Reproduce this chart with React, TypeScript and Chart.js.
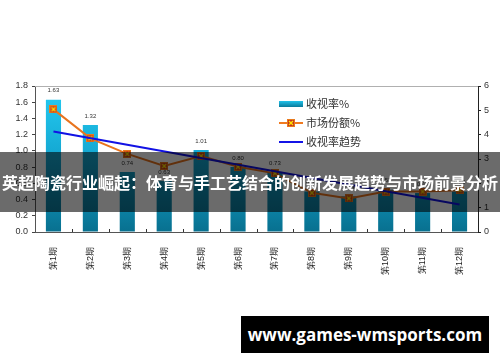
import React, { useEffect, useRef } from "react";
import { Chart, registerables } from "chart.js";

Chart.register(...registerables);

const categories = ["第1期", "第2期", "第3期", "第4期", "第5期", "第6期", "第7期", "第8期", "第9期", "第10期", "第11期", "第12期"];
const ratings = [1.63, 1.32, 0.74, 0.63, 1.01, 0.8, 0.73, 0.5, 0.44, 0.52, 0.48, 0.5];
const marketShare = [5.04, 3.85, 3.21, 2.71, 3.12, 2.68, 2.41, 1.61, 1.38, 1.66, 1.66, 1.72];
const ratingTrend = [1.24, null, null, null, null, null, null, null, null, null, null, 0.34];
const legendLabels = ["收视率%", "市场份额%", "收视率趋势"];
const titleText = "英超陶瓷行业崛起：体育与手工艺结合的创新发展趋势与市场前景分析";
const watermarkText = "www.games-wmsports.com";

function makeMarker(): HTMLCanvasElement {
  const c = document.createElement("canvas");
  c.width = 8;
  c.height = 8;
  const g = c.getContext("2d")!;
  g.fillStyle = "#c8361a";
  g.fillRect(0, 0, 8, 8);
  g.strokeStyle = "#e87a1e";
  g.lineWidth = 1;
  g.strokeRect(0.5, 0.5, 7, 7);
  g.strokeStyle = "#ffe600";
  g.lineWidth = 1.3;
  g.beginPath();
  g.moveTo(2, 2);
  g.lineTo(6, 6);
  g.moveTo(6, 2);
  g.lineTo(2, 6);
  g.stroke();
  return c;
}

const extrasPlugin = {
  id: "extras",
  beforeDatasetsDraw(chart: any) {
    const { ctx, chartArea } = chart;
    ctx.save();
    ctx.strokeStyle = "#b0b0b0";
    ctx.lineWidth = 1;
    ctx.beginPath();
    ctx.moveTo(chartArea.left, chartArea.top + 0.5);
    ctx.lineTo(chartArea.right, chartArea.top + 0.5);
    ctx.stroke();
    // small category boundary marks on the x axis
    const n = categories.length;
    const w = (chartArea.right - chartArea.left) / n;
    ctx.strokeStyle = "#333";
    ctx.beginPath();
    for (let i = 1; i < n; i++) {
      const x = Math.round(chartArea.left + i * w) + 0.5;
      ctx.moveTo(x, chartArea.bottom);
      ctx.lineTo(x, chartArea.bottom - 3);
    }
    ctx.stroke();
    ctx.restore();
  },
  afterDatasetsDraw(chart: any) {
    const { ctx } = chart;
    const meta = chart.getDatasetMeta(0);
    ctx.save();
    ctx.font = "6px 'Liberation Sans', sans-serif";
    ctx.fillStyle = "#333";
    ctx.textAlign = "center";
    ctx.textBaseline = "bottom";
    meta.data.forEach((bar: any, i: number) => {
      ctx.fillText(ratings[i].toFixed(2), bar.x, bar.y - 6);
    });
    ctx.restore();
  },
  afterDraw(chart: any) {
    const { ctx } = chart;
    ctx.save();
    const x0 = 279;
    const x1 = 303;
    const rows = [104, 123, 142];
    // bar swatch
    const g = ctx.createLinearGradient(0, rows[0] - 3, 0, rows[0] + 3);
    g.addColorStop(0, "#22c2ea");
    g.addColorStop(1, "#0a7a9a");
    ctx.fillStyle = g;
    ctx.fillRect(x0, rows[0] - 3, x1 - x0, 6);
    // market share line
    ctx.strokeStyle = "#f07a20";
    ctx.lineWidth = 2;
    ctx.beginPath();
    ctx.moveTo(x0, rows[1]);
    ctx.lineTo(x1, rows[1]);
    ctx.stroke();
    ctx.drawImage(marker, 291 - 4, rows[1] - 4);
    // trend line
    ctx.strokeStyle = "#1414e6";
    ctx.beginPath();
    ctx.moveTo(x0, rows[2]);
    ctx.lineTo(x1, rows[2]);
    ctx.stroke();
    ctx.font = "11px 'Noto Sans CJK SC', sans-serif";
    ctx.fillStyle = "#333";
    ctx.textBaseline = "middle";
    ctx.textAlign = "left";
    legendLabels.forEach((t, i) => ctx.fillText(t, 306, rows[i]));
    ctx.restore();
  },
};

const marker = makeMarker();

export default function App() {
  const ref = useRef<HTMLCanvasElement | null>(null);
  useEffect(() => {
    if (!ref.current) return;
    const tickFont = { family: "'Liberation Sans', sans-serif", size: 9 };
    const chart = new Chart(ref.current, {
      type: "bar",
      data: {
        labels: categories,
        datasets: [
          {
            type: "bar",
            label: legendLabels[0],
            data: ratings,
            yAxisID: "y",
            order: 3,
            categoryPercentage: 1,
            barPercentage: 0.41,
            backgroundColor: (c: any) => {
              const area = c.chart.chartArea;
              if (!area) return "#12a0c8";
              const g = c.chart.ctx.createLinearGradient(0, area.top, 0, area.bottom);
              g.addColorStop(0, "#26cdf4");
              g.addColorStop(0.5, "#13a6d0");
              g.addColorStop(1, "#08708f");
              return g;
            },
            borderWidth: 0,
          },
          {
            type: "line",
            label: legendLabels[1],
            data: marketShare,
            yAxisID: "y1",
            order: 2,
            borderColor: "#e8741e",
            borderWidth: 2,
            pointStyle: marker as any,
            pointRadius: 4,
            tension: 0,
          },
          {
            type: "line",
            label: legendLabels[2],
            data: ratingTrend as any,
            yAxisID: "y",
            order: 1,
            borderColor: "#1212e4",
            borderWidth: 2,
            pointRadius: 0,
            spanGaps: true,
          },
        ],
      } as any,
      options: {
        animation: false,
        responsive: false,
        layout: { padding: { top: 86, left: 0, right: 0, bottom: 0 } },
        plugins: {
          legend: { display: false },
          tooltip: { enabled: false },
        },
        scales: {
          x: {
            offset: true,
            grid: { display: false, drawOnChartArea: false },
            border: { display: true, color: "#555", width: 1 },
            ticks: {
              font: tickFont,
              color: "#222",
              minRotation: 90,
              maxRotation: 90,
              padding: 7,
              autoSkip: false,
            },
            afterFit: (s: any) => {
              s.height = 130;
            },
          },
          y: {
            position: "left",
            min: 0,
            max: 1.8,
            grid: { drawOnChartArea: false, tickLength: 3, color: "#444" },
            border: { display: true, color: "#555", width: 1 },
            ticks: {
              stepSize: 0.2,
              font: tickFont,
              color: "#333",
              padding: 4,
              callback: (v: any) => Number(v).toFixed(1),
            },
            afterFit: (s: any) => {
              s.width = 35;
            },
          },
          y1: {
            position: "right",
            min: 0,
            max: 6,
            grid: { drawOnChartArea: false, tickLength: 3, color: "#222" },
            border: { display: true, color: "#222", width: 1 },
            ticks: { stepSize: 1, font: tickFont, color: "#333", padding: 3 },
            afterFit: (s: any) => {
              s.width = 22;
            },
          },
        },
      } as any,
      plugins: [extrasPlugin],
    });
    return () => chart.destroy();
  }, []);

  return (
    <div style={{ position: "fixed", left: 0, top: 0, width: 500, height: 362, background: "#fff", overflow: "hidden" }}>
      <canvas ref={ref} width={500} height={362} style={{ position: "absolute", left: 0, top: 0, width: 500, height: 362 }} />
      <div
        style={{
          position: "absolute",
          left: 0,
          top: 152,
          width: 500,
          height: 60,
          background: "rgba(0,0,0,0.58)",
          display: "flex",
          alignItems: "center",
          justifyContent: "center",
          color: "#fff",
          fontFamily: "'Noto Sans CJK SC', sans-serif",
          fontWeight: "bold",
          fontSize: 16,
          whiteSpace: "nowrap",
        }}
      >
        {titleText}
      </div>
      <div
        style={{
          position: "absolute",
          left: 241,
          top: 316,
          width: 248,
          height: 37,
          background: "#000",
          display: "flex",
          alignItems: "center",
          justifyContent: "center",
          color: "#fff",
          fontFamily: "'Open Sans', sans-serif",
          fontWeight: "bold",
          fontSize: 17,
          whiteSpace: "nowrap",
        }}
      >
        {watermarkText}
      </div>
    </div>
  );
}
